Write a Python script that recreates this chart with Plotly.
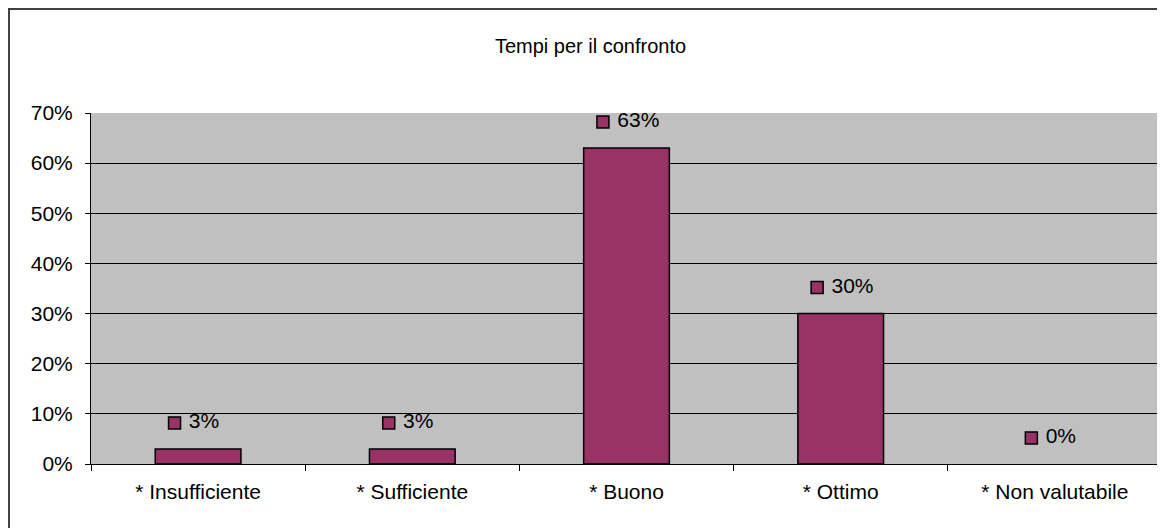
import plotly.graph_objects as go

categorie = ['* Insufficiente', '* Sufficiente', '* Buono', '* Ottimo', '* Non valutabile']
valori = [3, 3, 63, 30, 0]
etichette = ['3%', '3%', '63%', '30%', '0%']

pos = list(range(len(categorie)))

fig = go.Figure()
fig.add_trace(go.Bar(x=pos, y=valori, width=0.4,
                     marker=dict(color='#993366',
                                 line=dict(color='black', width=[1.5 if v > 0 else 0 for v in valori])),
                     hoverinfo='skip'))

# etichette dati: quadratino + testo sopra la barra
fig.add_trace(go.Scatter(x=[p - 0.11 for p in pos], y=[v + 5.2 for v in valori],
                         mode='markers+text', text=etichette, texttemplate=' %{text}',
                         textposition='middle right',
                         marker=dict(symbol='square', size=12, color='#993366',
                                     line=dict(color='black', width=1.5)),
                         textfont=dict(size=21, color='black'), cliponaxis=False,
                         hoverinfo='skip'))

fig.update_layout(
    width=1165, height=528,
    margin=dict(l=83, r=11, t=105, b=72),
    paper_bgcolor='white', plot_bgcolor='#C0C0C0',
    showlegend=False,
    font=dict(family='Liberation Sans, Arial, sans-serif', size=21, color='black'),
    title=dict(text='Tempi per il confronto', x=0.5, xanchor='center', y=0.928, yanchor='middle',
               font=dict(size=20, color='black')),
)
fig.update_xaxes(range=[-0.5, 4.5], tickmode='array', tickvals=pos, ticktext=categorie,
                 ticks='', showgrid=False, zeroline=False, showline=True, linecolor='black',
                 linewidth=1, ticklabelstandoff=9,
                 minor=dict(tickmode='array', tickvals=[-0.5, 0.5, 1.5, 2.5, 3.5, 4.5],
                            ticks='outside', ticklen=6, tickcolor='black', showgrid=False))
fig.update_yaxes(range=[0, 70], tickvals=list(range(0, 71, 10)),
                 ticktext=[f'{v}%' for v in range(0, 71, 10)],
                 ticks='outside', ticklen=5, tickcolor='black', ticklabelstandoff=8,
                 showgrid=True, gridcolor='black', gridwidth=1, zeroline=False,
                 showline=True, linecolor='black', linewidth=1)

fig.add_shape(type='rect', xref='paper', yref='paper',
              x0=-0.0766, x1=1.06, y0=-0.4, y1=1.296,
              line=dict(color='#404040', width=2), fillcolor='rgba(0,0,0,0)', layer='below')

fig.write_html('out.html')
